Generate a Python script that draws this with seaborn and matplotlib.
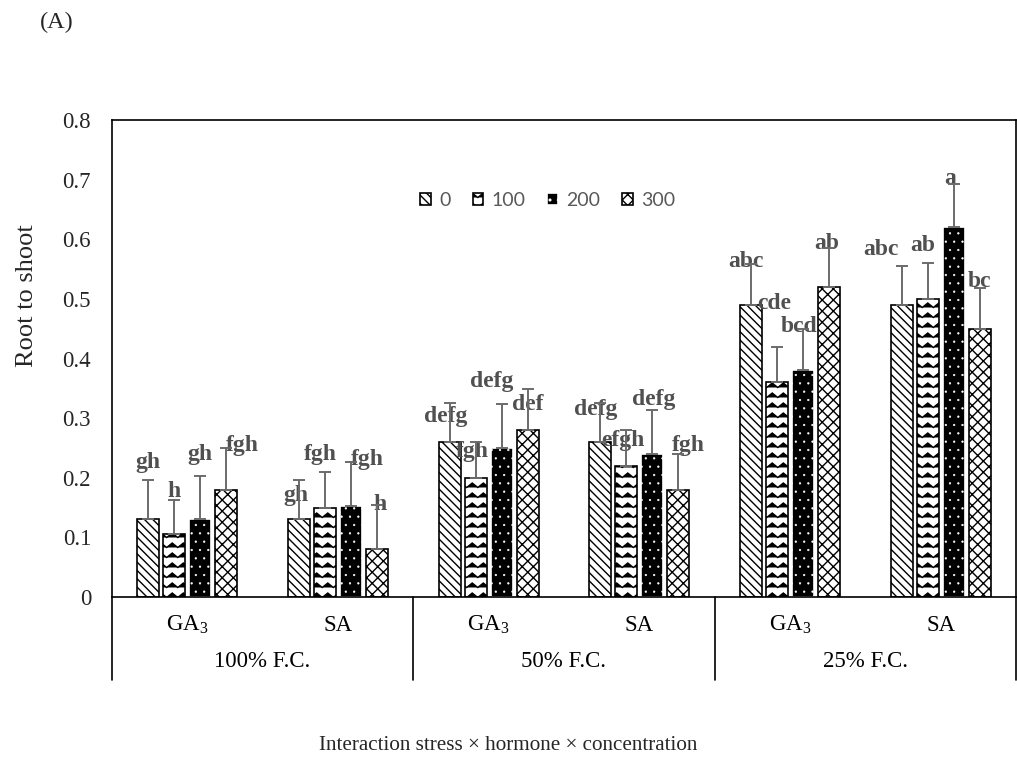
import matplotlib
matplotlib.use("Agg")
import matplotlib.pyplot as plt
import matplotlib.transforms as mtransforms
import matplotlib.hatch as mhatch
from matplotlib.path import Path
import seaborn as sns
import pandas as pd
import numpy as np

# ---------------- data ----------------
stress = ["100% F.C.", "50% F.C.", "25% F.C."]
hormones = ["GA$_3$", "SA"]
concentrations = ["0", "100", "200", "300"]

# one row per (stress, hormone) group, one column per concentration
values = [
    [0.13, 0.105, 0.13, 0.18],   # 100% GA3
    [0.13, 0.15, 0.152, 0.08],   # 100% SA
    [0.26, 0.20, 0.25, 0.28],    # 50% GA3
    [0.26, 0.22, 0.24, 0.18],    # 50% SA
    [0.49, 0.36, 0.38, 0.52],    # 25% GA3
    [0.49, 0.50, 0.62, 0.45],    # 25% SA
]
errors = [
    [0.066, 0.058, 0.073, 0.070],
    [0.066, 0.060, 0.074, 0.075],
    [0.066, 0.060, 0.074, 0.069],
    [0.066, 0.060, 0.074, 0.060],
    [0.069, 0.060, 0.070, 0.065],
    [0.066, 0.060, 0.072, 0.068],
]
letters = [
    ["gh", "h", "gh", "fgh"],
    ["gh", "fgh", "fgh", "h"],
    ["defg", "fgh", "defg", "def"],
    ["defg", "efgh", "defg", "fgh"],
    ["abc", "cde", "bcd", "ab"],
    ["abc", "ab", "a", "bc"],
]

y_ticks = [0, 0.1, 0.2, 0.3, 0.4, 0.5, 0.6, 0.7, 0.8]
y_tick_labels = ["0", "0.1", "0.2", "0.3", "0.4", "0.5", "0.6", "0.7", "0.8"]

# label nudges (pixels, relative to the error-bar cap), as placed in the reference
label_dx = [
    [0, 0, 0, 16],
    [-3, -5, 16, 3],
    [-4, -3, -10, 0],
    [-5, -3, 1, 10],
    [-5, -3, -4, -2],
    [-21, -5, -3, 0],
]
label_dy = [
    [18, 8, 21, 2],
    [-15, 17, 3, 0],
    [-14, -10, 22, -16],
    [-7, -10, 10, 8],
    [2, 43, 2, 5],
    [16, 18, 6, 7],
]

# ---------------- zigzag hatch (Excel "wave" pattern) ----------------
try:
    class ZigZagHatch(mhatch.HatchPatternBase):
        def __init__(self, hatch, density):
            count = hatch.count('-') + hatch.count('+')
            self.num_rows = int(round(count * density * 0.85))
            self.num_periods = max(1, int(round(self.num_rows * 0.9)))
            self.n = 2 * self.num_periods + 1
            self.num_vertices = self.num_rows * self.n if self.num_rows else 0

        def set_vertices_and_codes(self, vertices, codes):
            if self.num_rows == 0:
                return
            n = self.n
            xs = np.linspace(0.0, 1.0, n)
            step = 1.0 / self.num_rows
            amp = 0.45 * step
            offs = np.where(np.arange(n) % 2 == 0, 0.0, amp)
            for r in range(self.num_rows):
                y0 = (r + 0.25) * step
                sl = slice(r * n, (r + 1) * n)
                vertices[sl, 0] = xs
                vertices[sl, 1] = y0 + offs
                codes[sl] = Path.LINETO
                codes[r * n] = Path.MOVETO

    mhatch._hatch_types = [ZigZagHatch if t is mhatch.HorizontalHatch else t
                           for t in mhatch._hatch_types]
except Exception:
    pass

# ---------------- build frame ----------------
groups = [f"{s}|{h}" for s in stress for h in hormones]
rows = []
for gi, g in enumerate(groups):
    for ci, c in enumerate(concentrations):
        rows.append({"group": g, "conc": c, "value": values[gi][ci],
                     "err": errors[gi][ci], "letter": letters[gi][ci],
                     "dx": label_dx[gi][ci], "dy": label_dy[gi][ci]})
df = pd.DataFrame(rows)

# ---------------- style ----------------
sns.set_theme(style="white")
plt.rcParams["font.family"] = ["Liberation Serif", "DejaVu Serif"]
plt.rcParams["mathtext.fontset"] = "custom"
plt.rcParams["mathtext.rm"] = "Liberation Serif"
plt.rcParams["mathtext.it"] = "Liberation Serif:italic"
plt.rcParams["mathtext.bf"] = "Liberation Serif:bold"
plt.rcParams["hatch.linewidth"] = 1.0

fig = plt.figure(figsize=(10.17, 7.65), dpi=100)
ax = fig.add_axes([0.110, 0.2196, 0.889, 0.6235])

palette = {"0": "white", "100": "white", "200": "black", "300": "white"}
sns.barplot(data=df, x="group", y="value", hue="conc", order=groups,
            hue_order=concentrations, palette=palette, width=0.69, gap=0.15,
            errorbar=None, edgecolor="black", linewidth=1.2, legend=False,
            ax=ax, zorder=2)

bar_containers = list(ax.containers)
hatches = ["\\\\\\\\", "--", "..", "xxx"]
for ci, cont in enumerate(bar_containers):
    for p in cont.patches:
        p.set_hatch(hatches[ci])
        if concentrations[ci] == "200":
            p.set_facecolor("black")
            if hasattr(p, "set_hatchcolor"):
                p.set_hatchcolor("white")
            else:
                p.set_edgecolor("white")
            if hasattr(p, "set_hatch_linewidth"):
                p.set_hatch_linewidth(0.4)

# error bars and letters
for ci, cont in enumerate(bar_containers):
    sub = df[df["conc"] == concentrations[ci]].set_index("group").loc[groups]
    xs = [p.get_x() + p.get_width() / 2 for p in cont.patches]
    ax.errorbar(xs, sub["value"].values,
                yerr=[np.zeros(len(xs)), sub["err"].values],
                fmt="none", ecolor="#6b6b6b", elinewidth=1.4, capsize=4.5,
                capthick=1.4, zorder=4)
    for x, (_, r) in zip(xs, sub.iterrows()):
        ax.annotate(r["letter"], (x, r["value"] + r["err"]),
                    xytext=(r["dx"], r["dy"]), textcoords="offset pixels",
                    ha="center", va="center", fontsize=17, fontweight="bold",
                    color="#505050", zorder=3)

# axes formatting
ax.set_ylim(0, 0.8)
ax.set_xlim(-0.5, len(groups) - 0.5)
ax.set_yticks(y_ticks)
ax.set_yticklabels(y_tick_labels, fontsize=16.5)
ax.tick_params(axis="y", length=0, pad=15)
ax.set_xticks([])
ax.set_xlabel("")
ax.set_ylabel("")
for s in ax.spines.values():
    s.set_color("black")
    s.set_linewidth(1.2)

# two-level category axis
trans = mtransforms.blended_transform_factory(ax.transData, ax.transAxes)
for gi, g in enumerate(groups):
    h = hormones[gi % len(hormones)]
    ax.text(gi, -0.0587, h, transform=trans, ha="center", va="center",
            fontsize=16.5, color="black")
for si, s in enumerate(stress):
    ax.text(si * 2 + 0.5, -0.136, s, transform=trans, ha="center",
            va="center", fontsize=16.5, color="black")
for xb in [-0.5, 1.5, 3.5, 5.5]:
    ax.plot([xb, xb], [0, -0.174], transform=trans, color="black",
            lw=1.2, clip_on=False)

# legend
handles = [cont.patches[0] for cont in bar_containers]
leg = ax.legend(handles, concentrations, loc="center", bbox_to_anchor=(0.482, 0.832),
                ncol=4, frameon=False, handlelength=0.55, handleheight=0.55,
                handletextpad=0.4, columnspacing=1.15,
                prop={"family": "Lato", "size": 14})
for t in leg.get_texts():
    t.set_color("#595959")

# titles
fig.text(0.027, 0.614, "Root to shoot", rotation=90, ha="center", va="center",
         fontsize=19)
fig.text(0.5, 1 - 745 / 765, "Interaction stress \u00d7 hormone \u00d7 concentration",
         ha="center", va="center", fontsize=15.2)
fig.text(40 / 1017, 1 - 22 / 765, "(A)", ha="left", va="center", fontsize=17.5)

fig.savefig("out.png", dpi=100)
